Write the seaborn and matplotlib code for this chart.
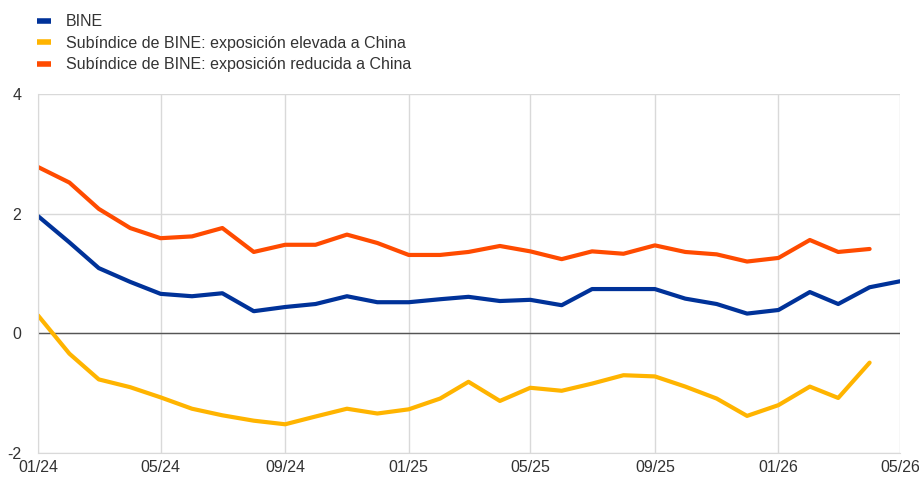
import pandas as pd
import numpy as np
import matplotlib
matplotlib.use("Agg")
import matplotlib.pyplot as plt
import matplotlib.dates as mdates
import seaborn as sns

sns.set_style("white")
plt.rcParams["font.family"] = ["Liberation Sans", "DejaVu Sans"]
plt.rcParams["axes.unicode_minus"] = False

months = pd.date_range("2024-01-01", "2026-05-01", freq="MS")

bine = [1.96, 1.52, 1.09, 0.86, 0.66, 0.62, 0.67, 0.37, 0.44, 0.49,
        0.62, 0.52, 0.52, 0.57, 0.61, 0.54, 0.56, 0.47, 0.74, 0.74,
        0.74, 0.58, 0.49, 0.33, 0.39, 0.69, 0.49, 0.77, 0.87]
high_china = [0.30, -0.34, -0.77, -0.90, -1.07, -1.26, -1.37, -1.46, -1.52, -1.39,
              -1.26, -1.34, -1.27, -1.09, -0.81, -1.13, -0.91, -0.96, -0.84, -0.70,
              -0.72, -0.89, -1.09, -1.38, -1.20, -0.89, -1.08, -0.49, np.nan]
low_china = [2.78, 2.52, 2.08, 1.76, 1.59, 1.62, 1.76, 1.36, 1.48, 1.48,
             1.65, 1.51, 1.31, 1.31, 1.36, 1.46, 1.37, 1.24, 1.37, 1.33,
             1.47, 1.36, 1.32, 1.20, 1.26, 1.56, 1.36, 1.41, np.nan]

labels = ["BINE",
          "Subíndice de BINE: exposición elevada a China",
          "Subíndice de BINE: exposición reducida a China"]
colors = ["#003299", "#FFB400", "#FF4B00"]

df = pd.DataFrame({"fecha": months, labels[0]: bine,
                   labels[1]: high_china, labels[2]: low_china})
long = df.melt(id_vars="fecha", var_name="serie", value_name="valor").dropna()

fig = plt.figure(figsize=(9.2, 4.8), dpi=100)
ax = fig.add_axes([38/920, 1 - 453/480, 862/920, 359/480])

sns.lineplot(data=long, x="fecha", y="valor", hue="serie", hue_order=labels,
             palette=colors, linewidth=3, ax=ax, legend=False)

ax.axhline(0, color="#555555", linewidth=1, zorder=1)

ax.set_xlim(months[0], months[-1])
ax.set_ylim(-2, 4)
ax.set_yticks([-2, 0, 2, 4])
ax.set_xticks(months[::4])
ax.xaxis.set_major_formatter(mdates.DateFormatter("%m/%y"))
ax.grid(True, color="#d9d9d9", linewidth=1)
ax.set_axisbelow(True)
for side in ["top", "right"]:
    ax.spines[side].set_visible(False)
for side in ["left", "bottom"]:
    ax.spines[side].set_color("#d9d9d9")
ax.tick_params(axis="both", length=0, labelsize=11.5, colors="#333333")
ax.tick_params(axis="y", pad=12)
ax.tick_params(axis="x", pad=5)
ax.set_xlabel("")
ax.set_ylabel("")

handles = [plt.Line2D([], [], color=c, linewidth=4, solid_capstyle="butt") for c in colors]
fig.legend(handles, labels, loc="upper left", bbox_to_anchor=(31/920, 1 - 8/480),
           frameon=False, fontsize=11.5, handlelength=0.85, handletextpad=0.95,
           labelspacing=0.4, borderaxespad=0, labelcolor="#333333")

fig.savefig("out.png", dpi=100)
